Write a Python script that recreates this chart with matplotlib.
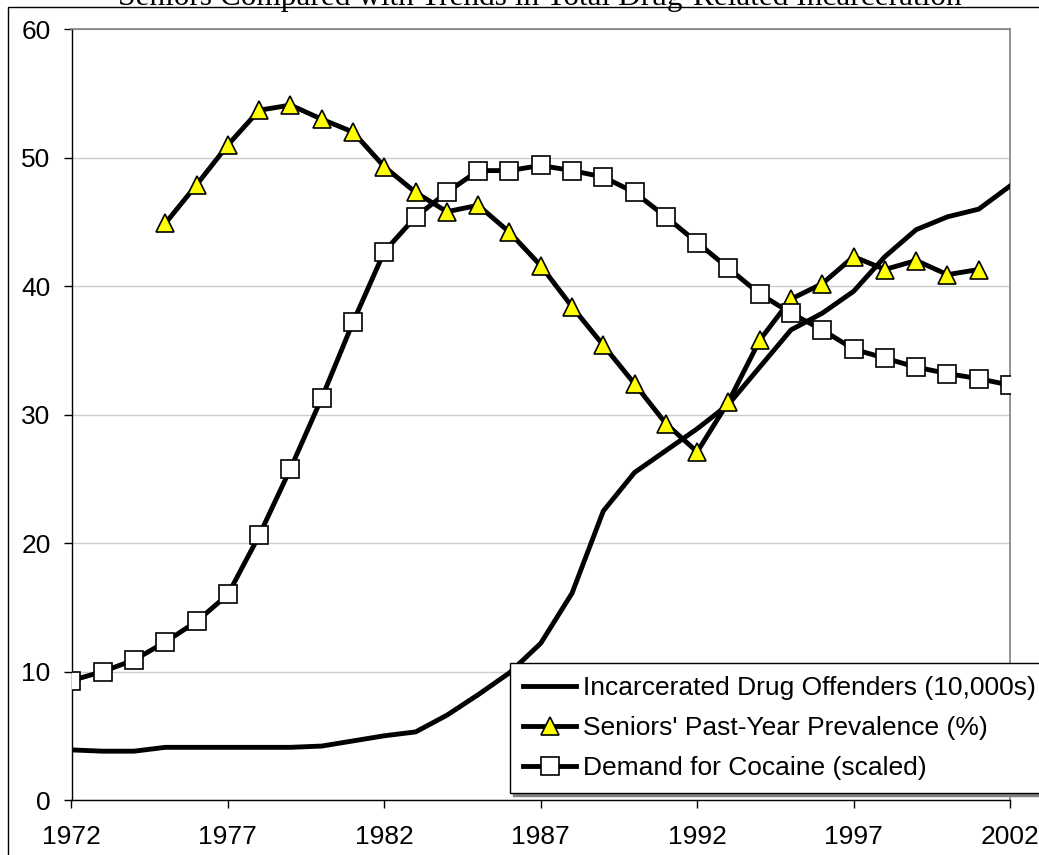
import matplotlib
matplotlib.use('Agg')
import matplotlib.pyplot as plt
from matplotlib.lines import Line2D
from matplotlib.patches import Rectangle

# ---- data ----
years = list(range(1972, 2003))
incarcerated = [3.9, 3.8, 3.8, 4.1, 4.1, 4.1, 4.1, 4.1, 4.2, 4.6,
                5.0, 5.3, 6.6, 8.2, 9.9, 12.2, 16.1, 22.5, 25.5, 27.2,
                28.9, 30.8, 33.7, 36.6, 37.9, 39.6, 42.3, 44.4, 45.4, 46.0, 47.8]
senior_years = list(range(1975, 2002))
seniors = [44.9, 47.9, 51.0, 53.7, 54.1, 53.0, 52.0, 49.3, 47.3, 45.8,
           46.3, 44.2, 41.6, 38.4, 35.4, 32.4, 29.3, 27.1, 31.0, 35.8,
           39.0, 40.2, 42.3, 41.3, 42.0, 40.9, 41.3]
demand = [9.3, 10.0, 10.9, 12.3, 13.9, 16.0, 20.6, 25.8, 31.3, 37.2,
          42.7, 45.4, 47.3, 49.0, 49.0, 49.4, 49.0, 48.5, 47.3, 45.4,
          43.4, 41.4, 39.4, 37.9, 36.6, 35.1, 34.4, 33.7, 33.2, 32.8, 32.3]
labels = ["Incarcerated Drug Offenders (10,000s)",
          "Seniors' Past-Year Prevalence (%)",
          "Demand for Cocaine (scaled)"]
title = "Seniors Compared with Trends in Total Drug-Related Incarceration"
xticks = [1972, 1977, 1982, 1987, 1992, 1997, 2002]
yticks = [0, 10, 20, 30, 40, 50, 60]

plt.rcParams['font.family'] = ['Liberation Sans', 'DejaVu Sans']

W, H = 1039, 855
fig = plt.figure(figsize=(W / 100, H / 100), dpi=100)
ax = fig.add_axes([71.5 / W, (H - 800) / H, (1010 - 71.5) / W, (800 - 29.3) / H])

lw = 3.5
ax.plot(years, incarcerated, color='black', lw=lw, solid_joinstyle='round', zorder=3)
ax.plot(senior_years, seniors, color='black', lw=lw, marker='^', markersize=12.5,
        markerfacecolor='#FFFF00', markeredgecolor='black', markeredgewidth=1.2, zorder=4)
ax.plot(years, demand, color='black', lw=lw, marker='s', markersize=13,
        markerfacecolor='white', markeredgecolor='black', markeredgewidth=1.2, zorder=5)

ax.set_xlim(1972, 2002)
ax.set_ylim(0, 60)
ax.set_xticks(xticks)
ax.set_yticks(yticks)
ax.yaxis.grid(True, color='#cccccc', lw=1)
ax.set_axisbelow(True)
for s in ['top', 'right']:
    ax.spines[s].set_color('#808080')
    ax.spines[s].set_linewidth(1.2)
for s in ['left', 'bottom']:
    ax.spines[s].set_color('black')
    ax.spines[s].set_linewidth(1.0)
ax.tick_params(direction='out', length=6, width=1, labelsize=19)
ax.tick_params(axis='y', pad=9)
ax.tick_params(axis='x', pad=12)

handles = [
    Line2D([], [], color='black', lw=lw),
    Line2D([], [], color='black', lw=lw, marker='^', markersize=12.5,
           markerfacecolor='#FFFF00', markeredgecolor='black', markeredgewidth=1.2),
    Line2D([], [], color='black', lw=lw, marker='s', markersize=13,
           markerfacecolor='white', markeredgecolor='black', markeredgewidth=1.2),
]
leg = ax.legend(handles, labels, loc='lower left',
                bbox_to_anchor=(510 / W, (H - 793) / H), bbox_transform=fig.transFigure,
                fontsize=19, frameon=True, fancybox=False, edgecolor='black',
                framealpha=1, handlelength=2.0, handletextpad=0.25, borderpad=0.5,
                labelspacing=0.6, borderaxespad=0, numpoints=1,
                shadow={'color': '#808080', 'alpha': 1})
leg.get_frame().set_linewidth(1.0)
leg.set_zorder(10)

# outer chart-area border
fig.add_artist(Rectangle((8 / W, -0.05), 1.2, (H - 7) / H + 0.05, transform=fig.transFigure,
                         fill=False, ec='black', lw=1.0))
fig.text(540 / W, 1 - 5 / H, title, ha='center', va='baseline',
         family=['Liberation Serif'], fontsize=22.5)

fig.savefig('out.png', dpi=100)
